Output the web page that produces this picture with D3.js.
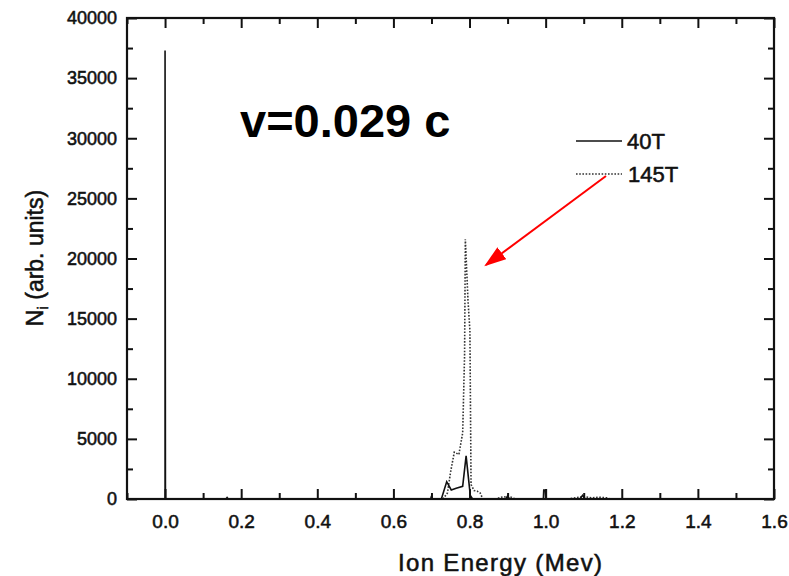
<!DOCTYPE html>
<html><head><meta charset="utf-8">
<script src="https://cdn.jsdelivr.net/npm/d3@7"></script>
<style>body{margin:0;background:#fff;} svg{display:block;font-family:"Liberation Sans",Arial,sans-serif;} .thick{stroke:#111;stroke-width:0.55px;}</style>
</head><body>
<svg id="c" width="789" height="576"></svg>
<script>
// Data
const xTicks = [0.0, 0.2, 0.4, 0.6, 0.8, 1.0, 1.2, 1.4, 1.6];
const yTicks = [0, 5000, 10000, 15000, 20000, 25000, 30000, 35000, 40000];
const energy40 = [0, 0, 0.001, 0.16, 0.163, 0.166, 0.698, 0.7, 0.702, 0.726, 0.74, 0.752, 0.765, 0.782, 0.791, 0.802, 0.808, 0.895, 0.9, 0.905, 0.994, 0.995, 0.999, 1.0, 1.09, 1.097, 1.104, 1.6];
const value40  = [0, 37300, 0, 0, 120, 0, 0, 250, 0, 0, 1440, 750, 900, 1050, 3580, 300, 0, 0, 250, 0, 0, 750, 750, 0, 0, 300, 0, 0];
const energy145 = [0.73, 0.742, 0.75, 0.76, 0.772, 0.782, 0.787, 0.789, 0.796, 0.801, 0.804, 0.812, 0.82, 0.828, 0.835, 0.87, 0.88, 0.89, 0.9, 0.91, 0.92, 1.06, 1.08, 1.1, 1.12, 1.14, 1.16, 1.17];
const value145  = [0, 500, 2200, 3900, 3700, 5500, 12000, 21600, 16500, 14000, 1200, 700, 650, 500, 0, 0, 120, 200, 120, 150, 0, 0, 120, 200, 100, 150, 100, 0];
const legendNames = ["40T", "145T"];
const annotation = "v=0.029 c";

const svg = d3.select("#c");
const L = 127, R = 774, T = 18, B = 499;
const x = d3.scaleLinear().domain([-0.1, 1.6]).range([L, R]);
const y = d3.scaleLinear().domain([0, 40000]).range([B, T]);

const line = d3.line().x((d) => x(d[0])).y((d) => y(d[1]));
const d40 = energy40.map((e, i) => [e, value40[i]]);
const d145 = energy145.map((e, i) => [e, value145[i]]);

svg.append("path").datum(d145).attr("d", line).attr("fill", "none")
  .attr("stroke", "#333").attr("stroke-width", 1.6).attr("stroke-dasharray", "1.6,1.6");
svg.append("path").datum(d40).attr("d", line).attr("fill", "none")
  .attr("stroke", "#111").attr("stroke-width", 1.6);

// Axes
const minorX = d3.range(-0.1, 1.601, 0.1).filter(v => !xTicks.some(t => Math.abs(t - v) < 1e-6));
const minorY = d3.range(2500, 40000, 5000);
function style(g){ g.select(".domain").remove(); g.selectAll("line").attr("stroke","#111").attr("stroke-width",2); }

const xb = svg.append("g").attr("transform", `translate(0,${B})`)
  .call(d3.axisBottom(x).tickValues(xTicks).tickFormat(d3.format(".1f")).tickSize(-10).tickPadding(16));
xb.call(style); xb.selectAll("text").attr("font-size", 19).attr("fill", "#111").attr("class", "thick");
svg.append("g").attr("transform", `translate(0,${B})`).call(d3.axisBottom(x).tickValues(minorX).tickFormat("").tickSize(-6)).call(style);
svg.append("g").attr("transform", `translate(0,${T})`).call(d3.axisTop(x).tickValues(xTicks).tickFormat("").tickSize(-10)).call(style);
svg.append("g").attr("transform", `translate(0,${T})`).call(d3.axisTop(x).tickValues(minorX).tickFormat("").tickSize(-6)).call(style);

const yl = svg.append("g").attr("transform", `translate(${L},0)`)
  .call(d3.axisLeft(y).tickValues(yTicks).tickFormat(d3.format("d")).tickSize(-10).tickPadding(10));
yl.call(style); yl.selectAll("text").attr("font-size", 18).attr("fill", "#111").attr("class", "thick");
svg.append("g").attr("transform", `translate(${L},0)`).call(d3.axisLeft(y).tickValues(minorY).tickFormat("").tickSize(-6)).call(style);
svg.append("g").attr("transform", `translate(${R},0)`).call(d3.axisRight(y).tickValues(yTicks).tickFormat("").tickSize(-10)).call(style);
svg.append("g").attr("transform", `translate(${R},0)`).call(d3.axisRight(y).tickValues(minorY).tickFormat("").tickSize(-6)).call(style);

svg.append("rect").attr("x", L).attr("y", T).attr("width", R - L).attr("height", B - T)
  .attr("fill", "none").attr("stroke", "#111").attr("stroke-width", 2.2);

// Axis titles
svg.append("text").attr("x", 500).attr("y", 571).attr("text-anchor", "middle").attr("class", "thick")
  .attr("font-size", 24).attr("fill", "#111").attr("textLength", 204).text("Ion Energy (Mev)");
const yt = svg.append("text").attr("transform", "translate(43,258) rotate(-90)").attr("text-anchor", "middle")
  .attr("font-size", 23).attr("fill", "#111").attr("class", "thick");
yt.append("tspan").text("N");
yt.append("tspan").attr("font-size", 15).attr("dy", 5).text("i");
yt.append("tspan").attr("dy", -5).text(" (arb. units)");

// Annotation
svg.append("text").attr("x", 240).attr("y", 137).attr("font-size", 47).attr("font-weight", "bold")
  .attr("fill", "#000").text(annotation);

// Legend
svg.append("line").attr("x1", 576).attr("x2", 622).attr("y1", 141).attr("y2", 141).attr("stroke", "#111").attr("stroke-width", 1.6);
svg.append("text").attr("x", 627).attr("y", 149).attr("font-size", 22).attr("fill", "#111").attr("class", "thick").text(legendNames[0]);
svg.append("line").attr("x1", 576).attr("x2", 622).attr("y1", 174).attr("y2", 174).attr("stroke", "#333").attr("stroke-width", 1.6).attr("stroke-dasharray", "1.6,1.6");
svg.append("text").attr("x", 628).attr("y", 182).attr("font-size", 22).attr("fill", "#111").attr("class", "thick").text(legendNames[1]);

// Red arrow
svg.append("defs").append("marker").attr("id", "ah").attr("viewBox", "0 0 10 10").attr("refX", 9).attr("refY", 5)
  .attr("markerWidth", 22).attr("markerHeight", 15).attr("markerUnits", "userSpaceOnUse").attr("orient", "auto")
  .attr("preserveAspectRatio", "none")
  .append("path").attr("d", "M0,0 L10,5 L0,10 z").attr("fill", "#ff0000");
svg.append("line").attr("x1", 606).attr("y1", 176).attr("x2", 486).attr("y2", 265)
  .attr("stroke", "#ff0000").attr("stroke-width", 2).attr("marker-end", "url(#ah)");
</script>
</body></html>
